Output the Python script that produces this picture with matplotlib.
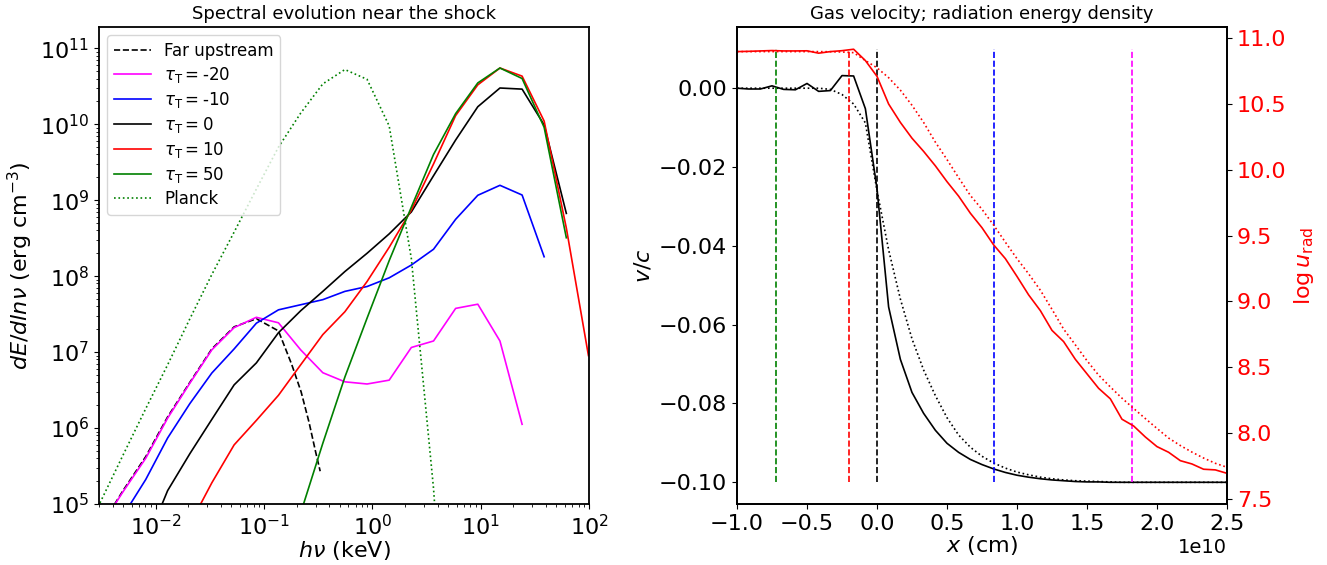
import matplotlib
matplotlib.use('Agg')
import matplotlib.pyplot as plt
import numpy as np

# ---- left panel: spectra (hnu in keV, dE/dlnnu in erg cm^-3)
energy = [0.0019, 0.0031, 0.0050, 0.0081, 0.0129, 0.0207, 0.033, 0.053, 0.085,
          0.136, 0.218, 0.349, 0.558, 0.894, 1.43, 2.29, 3.67, 5.87, 9.4,
          15.05, 24.1, 38.5, 61.7, 98.7]

far_energy = [0.0031, 0.0050, 0.0081, 0.0129, 0.0207, 0.033, 0.053, 0.085,
              0.136, 0.18, 0.22, 0.26, 0.30, 0.33]
far_upstream = [5e4, 1.5e5, 4.2e5, 1.4e6, 4.0e6, 1.1e7, 2.15e7, 2.75e7,
                1.9e7, 6.9e6, 3.0e6, 1.2e6, 4.8e5, 2.7e5]

spec_m20 = [None, 5e4, 1.45e5, 4.0e5, 1.35e6, 3.9e6, 1.07e7, 2.1e7, 2.87e7,
            2.43e7, 1.07e7, 5.35e6, 4.06e6, 3.8e6, 4.27e6, 1.15e7, 1.4e7,
            3.76e7, 4.27e7, 1.4e7, 1.12e6, None, None, None]
spec_m10 = [None, 2e4, 7e4, 2.1e5, 7.4e5, 2.1e6, 5.3e6, 1.1e7, 2.4e7,
            3.6e7, 4.2e7, 4.9e7, 6.3e7, 7.3e7, 9.5e7, 1.4e8, 2.26e8,
            5.6e8, 1.16e9, 1.57e9, 1.17e9, 1.8e8, None, None]
spec_0 = [None, None, None, 3e4, 1.5e5, 4.6e5, 1.3e6, 3.7e6, 7.2e6,
          1.8e7, 3.5e7, 6.3e7, 1.15e8, 2.0e8, 3.6e8, 7.0e8, 2.1e9,
          6.2e9, 1.7e10, 3.0e10, 2.9e10, 9.8e9, 6.7e8, None]
spec_10 = [None, None, None, None, None, 5.4e4, 1.9e5, 6e5, 1.26e6,
           2.7e6, 6.8e6, 1.7e7, 3.4e7, 8.5e7, 2.4e8, 7.4e8, 3.0e9,
           1.3e10, 3.3e10, 5.5e10, 4.3e10, 1.1e10, 4.3e8, 9e6]
spec_50 = [None, None, None, None, None, None, None, None, None,
           None, 7.6e4, 6.3e5, 4.7e6, 2.8e7, 1.6e8, 8.1e8, 4.0e9,
           1.38e10, 3.5e10, 5.5e10, 4.0e10, 9.1e9, 3.2e8, None]
planck = [2.8e4, 1.07e5, 4.4e5, 1.8e6, 6.8e6, 2.75e7, 1.05e8, 3.8e8, 1.4e9,
          5.0e9, 1.4e10, 3.4e10, 5.25e10, 3.9e10, 9.5e9, 1.7e8, 1.6e5,
          1e1, None, None, None, None, None, None]

# ---- right panel: gas velocity and log u_rad vs x (units of 1e10 cm)
x_pos = [-1.0, -0.917, -0.833, -0.75, -0.667, -0.583, -0.5, -0.417, -0.333,
         -0.25, -0.167, -0.083, 0.0, 0.083, 0.167, 0.25, 0.333, 0.417, 0.5,
         0.583, 0.667, 0.75, 0.833, 0.917, 1.0, 1.083, 1.167, 1.25, 1.333,
         1.417, 1.5, 1.583, 1.667, 1.75, 1.833, 1.917, 2.0, 2.083, 2.167,
         2.25, 2.333, 2.417, 2.5]
v_sim = [0.0, -0.0002, -0.0002, 0.0006, -0.0003, -0.0004, 0.0012, -0.0008,
         -0.0006, 0.0032, 0.0031, -0.0052, -0.0255, -0.0555, -0.0688,
         -0.0772, -0.0825, -0.0868, -0.0901, -0.0924, -0.0942, -0.0955,
         -0.0966, -0.0975, -0.0982, -0.0987, -0.0991, -0.0994, -0.0996,
         -0.0998, -0.0999, -0.0999, -0.1, -0.1, -0.1, -0.1, -0.1, -0.1,
         -0.1, -0.1, -0.1, -0.1, -0.1]
v_ref = [0.0, 0.0, 0.0, 0.0, 0.0, 0.0, 0.0, 0.0, -0.0003, -0.0016, -0.0040,
         -0.0088, -0.026, -0.041, -0.0535, -0.0636, -0.0715, -0.078, -0.0836,
         -0.088, -0.0911, -0.0934, -0.0951, -0.0964, -0.0974, -0.0981,
         -0.0987, -0.0991, -0.0994, -0.0996, -0.0997, -0.0998, -0.0999,
         -0.1, -0.1, -0.1, -0.1, -0.1, -0.1, -0.1, -0.1, -0.1, -0.1]
logu_sim = [10.898, 10.900, 10.903, 10.906, 10.903, 10.903, 10.904, 10.886,
            10.898, 10.905, 10.916, 10.83, 10.71, 10.50, 10.36, 10.24, 10.14,
            10.03, 9.91, 9.80, 9.67, 9.56, 9.43, 9.325, 9.19, 9.05, 8.93,
            8.78, 8.695, 8.56, 8.45, 8.34, 8.26, 8.105, 8.054, 7.97, 7.897,
            7.854, 7.79, 7.765, 7.725, 7.72, 7.694]
logu_ref = [10.898, 10.898, 10.898, 10.898, 10.898, 10.898, 10.898, 10.898,
            10.897, 10.895, 10.89, 10.83, 10.775, 10.70, 10.605, 10.49, 10.36,
            10.21, 10.078, 9.94, 9.805, 9.70, 9.58, 9.45, 9.325, 9.21, 9.085,
            8.94, 8.79, 8.67, 8.55, 8.44, 8.35, 8.265, 8.187, 8.11, 8.035,
            7.962, 7.905, 7.855, 7.81, 7.77, 7.74]

tau_x = [-0.724, -0.202, 0.0, 0.834, 1.824]
tau_colors = ['g', 'r', 'k', 'b', '#FF00FF']


def arr(v):
    return np.array([np.nan if a is None else a for a in v], dtype=float)


plt.rcParams['font.family'] = 'DejaVu Sans'
plt.rcParams['axes.linewidth'] = 1.3
fig = plt.figure(figsize=(13.27, 5.65), dpi=100)
ax1 = fig.add_axes([0.0746, 0.108, 0.3693, 0.844])
ax2 = fig.add_axes([0.5554, 0.108, 0.3692, 0.844])

lw = 1.2
ax1.plot(far_energy, far_upstream, 'k--', lw=lw, label='Far upstream')
ax1.plot(energy, arr(spec_m20), color='#FF00FF', lw=lw, label=r'$\tau_{\rm T} = $-20')
ax1.plot(energy, arr(spec_m10), color='b', lw=lw, label=r'$\tau_{\rm T} = $-10')
ax1.plot(energy, arr(spec_0), color='k', lw=lw, label=r'$\tau_{\rm T} = $0')
ax1.plot(energy, arr(spec_10), color='r', lw=lw, label=r'$\tau_{\rm T} = $10')
ax1.plot(energy, arr(spec_50), color='g', lw=lw, label=r'$\tau_{\rm T} = $50')
ax1.plot(energy, arr(planck), color='g', ls=':', lw=lw, label='Planck')
ax1.set_xscale('log')
ax1.set_yscale('log')
ax1.set_xlim(3e-3, 100)
ax1.set_ylim(1e5, 1.9e11)
ax1.set_xlabel(r'$h\nu$ (keV)', fontsize=16, labelpad=0)
ax1.set_ylabel(r'$dE/dln\nu$ (erg cm$^{-3}$)', fontsize=16)
ax1.set_title('Spectral evolution near the shock', fontsize=13)
ax1.tick_params(labelsize=16)
ax1.legend(loc='upper left', fontsize=12, labelspacing=0.3,
           handlelength=2.2, borderpad=0.4)

x_cm = np.array(x_pos) * 1e10
ax2.plot(x_cm, v_sim, 'k-', lw=lw)
ax2.plot(x_cm, v_ref, 'k:', lw=lw)
for xv, c in zip(tau_x, tau_colors):
    ax2.vlines(xv * 1e10, -0.1, 0.01, colors=c, linestyles='--', lw=lw)
ax2.set_xlim(-1e10, 2.5e10)
ax2.set_ylim(-0.1055, 0.0155)
ax2.set_yticks([0.0, -0.02, -0.04, -0.06, -0.08, -0.1])
ax2.set_xlabel(r'$x$ (cm)', fontsize=16, labelpad=0)
ax2.set_ylabel(r'$v/c$', fontsize=16)
ax2.set_title('Gas velocity; radiation energy density', fontsize=13)
ax2.tick_params(labelsize=16)
ax2.xaxis.get_offset_text().set_fontsize(14)

ax3 = ax2.twinx()
ax3.plot(x_cm, logu_sim, 'r-', lw=lw)
ax3.plot(x_cm, logu_ref, 'r:', lw=lw)
ax3.set_ylim(7.461, 11.084)
ax3.set_ylabel(r'$\log u_{\rm rad}$', color='r', fontsize=16)
ax3.tick_params(axis='y', colors='r', labelsize=16)
ax3.spines['right'].set_color('k')
ax3.tick_params(axis='y', color='k')

fig.savefig('out.png', dpi=100)
